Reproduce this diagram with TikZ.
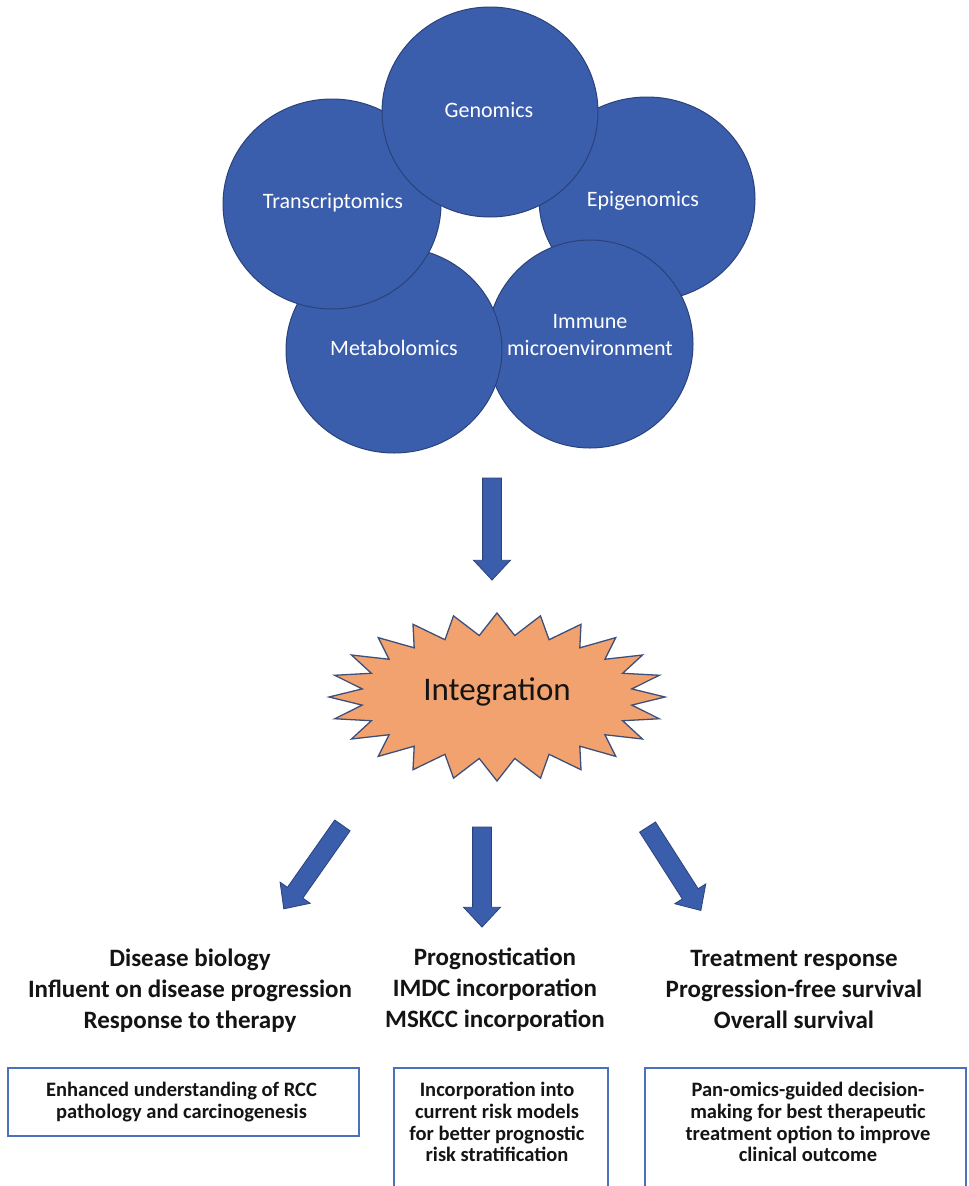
\documentclass[tikz,border=0pt]{standalone}
\usepackage{fontspec}
\setmainfont{Carlito}
\usetikzlibrary{shapes.geometric,shapes.arrows}
\definecolor{cblue}{RGB}{59,94,172}
\definecolor{cedge}{RGB}{42,66,124}
\definecolor{starfill}{RGB}{242,162,110}
\definecolor{staredge}{RGB}{62,80,122}
\definecolor{boxedge}{RGB}{74,112,190}
\definecolor{txt}{RGB}{20,20,20}
\begin{document}
\begin{tikzpicture}[x=1pt,y=-1pt,
  omic/.style={ellipse, draw=cedge, line width=1pt, fill=cblue, inner sep=0pt},
  omictext/.style={text=white, font=\fontsize{22}{27}\selectfont, align=center, inner sep=0pt},
  blockarrow/.style={single arrow, draw=cedge, fill=cblue, line width=0.8pt, inner sep=9pt,
    single arrow head extend=9pt, single arrow head indent=0pt, single arrow tip angle=86},
  heading/.style={text=txt, font=\bfseries\fontsize{25}{31}\selectfont, align=center, inner sep=0pt},
  frame/.style={draw=boxedge, line width=1.6pt, fill=white, inner sep=0pt},
  boxtext/.style={text=txt, font=\bfseries\fontsize{20.5}{21.8}\selectfont, align=center, inner sep=0pt}
]
\path[use as bounding box, clip] (0,0) rectangle (969,1186);
\fill[white] (0,0) rectangle (969,1186);

% omics circles (back to front)
\node[omic, minimum width=216pt, minimum height=204pt] (epi) at (647,199) {};
\node[omic, minimum width=206pt, minimum height=208pt] (imm) at (590,344) {};
\node[omic, minimum width=216pt, minimum height=206pt] (met) at (394,350) {};
\node[omic, minimum width=218pt, minimum height=210pt] (tra) at (332,204) {};
\node[omic, minimum width=216pt, minimum height=210pt] (gen) at (490,112) {};

\node[omictext] (tgen) at (489,110) {Genomics};
\node[omictext] (ttra) at (333,203) {Transcriptomics};
\node[omictext] (tepi) at (643,201) {Epigenomics};
\node[omictext] (tmet) at (394,348) {Metabolomics};
\node[omictext] (timm) at (590,335) {Immune\\microenvironment};

% arrow to integration
\node[blockarrow, minimum height=102pt, rotate=-90] (atop) at (492,524) {};

% starburst
\draw[staredge, fill=starfill, line width=1.3pt]
  plot[variable=\k, samples at={0,...,47}]
  ({497+ifthenelse(mod(\k,2)==0,168,136)*cos(\k*7.5)},
   {697+ifthenelse(mod(\k,2)==0,84,62)*sin(\k*7.5)}) -- cycle;
\node[text=txt, font=\fontsize{33}{40}\selectfont, inner sep=0pt] (integ) at (497,692) {Integration};

% three arrows
\node[blockarrow, minimum height=102pt, rotate=234.9] (aleft) at (316,863) {};
\node[blockarrow, minimum height=100pt, rotate=-90] (amid) at (482,872) {};
\node[blockarrow, minimum height=99pt, rotate=-57.4] (aright) at (671.5,864.5) {};

% headings
\node[heading] (h1) at (190,991) {Disease biology\\Influent on disease progression\\Response to therapy};
\node[heading] (h2) at (495,990) {Prognostication\\IMDC incorporation\\MSKCC incorporation};
\node[heading] (h3) at (794,989) {Treatment response\\Progression-free survival\\Overall survival};

% boxes
\node[frame, minimum width=351pt, minimum height=68pt] (f1) at (183.5,1102) {};
\node[frame, minimum width=214pt, minimum height=134pt] (f2) at (501,1135) {};
\node[frame, minimum width=321pt, minimum height=134pt] (f3) at (805.5,1135) {};

\node[boxtext] (b1) at (181.5,1102) {Enhanced understanding of RCC\\pathology and carcinogenesis};
\node[boxtext] (b2) at (497,1122) {Incorporation into\\current risk models\\for better prognostic\\risk stratification};
\node[boxtext] (b3) at (808,1122) {Pan-omics-guided decision-\\making for best therapeutic\\treatment option to improve\\clinical outcome};
\end{tikzpicture}
\end{document}
